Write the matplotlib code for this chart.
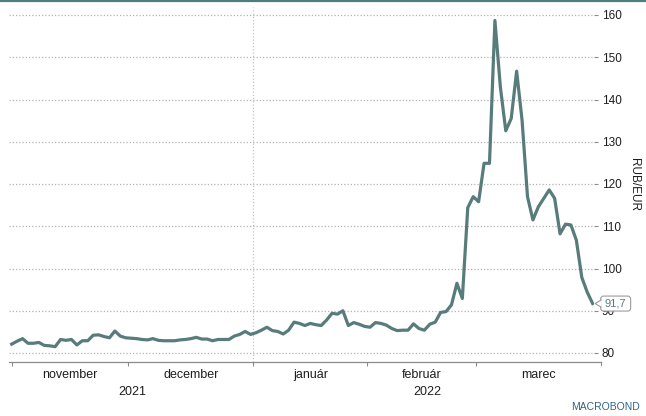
import matplotlib
matplotlib.use("Agg")
import matplotlib.pyplot as plt
import matplotlib.transforms as mtransforms
from matplotlib.patches import FancyBboxPatch, Polygon
from matplotlib.lines import Line2D
import numpy as np
import pandas as pd

plt.rcParams['font.family'] = ['Liberation Sans', 'DejaVu Sans']

# Daily (business-day) RUB/EUR exchange rate, starting 1 Nov 2021
start_date = "2021-11-01"
end_of_range = "2022-03-31"
rub_eur = [
    # November
    82.1, 82.8, 83.4, 82.3, 82.3, 82.5, 81.8, 81.7, 81.5, 83.2, 83.0,
    83.2, 81.9, 82.9, 82.9, 84.2, 84.3, 83.9, 83.6, 85.2, 84.0, 83.6,
    # December
    83.5, 83.4, 83.2, 83.1, 83.4, 83.0, 82.9, 82.9, 82.9, 83.1, 83.2,
    83.4, 83.7, 83.3, 83.3, 82.9, 83.2, 83.2, 83.2, 84.0, 84.4, 85.1, 84.4,
    # January
    84.8, 85.4, 86.1, 85.3, 85.1, 84.5, 85.4, 87.3, 87.0, 86.5, 87.0,
    86.7, 86.5, 87.8, 89.4, 89.2, 90.0, 86.5, 87.2, 86.8, 86.3,
    # February
    86.1, 87.2, 87.0, 86.6, 85.8, 85.3, 85.4, 85.4, 86.9, 85.8, 85.4,
    86.8, 87.3, 89.6, 89.8, 91.4, 96.5, 92.9, 114.4, 117.0,
    # March
    115.8, 124.9, 124.9, 158.7, 143.0, 132.6, 135.5, 146.7, 135.1, 117.0,
    111.5, 114.6, 116.6, 118.6, 116.6, 108.2, 110.5, 110.3, 106.7, 97.9,
    94.4, 91.7,
]
month_names = ["november", "december", "január", "február", "marec"]
year_labels = ["2021", "2022"]
last_value_label = "91,7"
y_ticks = [80, 90, 100, 110, 120, 130, 140, 150, 160]
unit_label = "RUB/EUR"

line_color = "#587c7b"
grid_color = "#b3b3b3"
text_color = "#1e1e1e"

dates = pd.bdate_range(start_date, periods=len(rub_eur))
x = np.arange(len(rub_eur))

# month boundaries on the business-day index
month_first = [i for i in range(1, len(dates)) if dates[i].month != dates[i - 1].month]
n_total = len(pd.bdate_range(start_date, end_of_range))
bounds = [0] + [i - 0.5 for i in month_first] + [n_total - 0.5]
year_split = month_first[1] - 0.5  # 1 January

W, H = 646, 416
fig = plt.figure(figsize=(W / 100, H / 100), dpi=100)
ax_l, ax_r, ax_t, ax_b = 9, 594, 7, 362
ax = fig.add_axes([ax_l / W, 1 - ax_b / H, (ax_r - ax_l) / W, (ax_b - ax_t) / H])

ax.set_xlim(-0.5, 107.25)
px_per_unit = 353 - 15
ax.set_ylim(80 - (ax_b - 353) / (px_per_unit / 80), 160 + (15 - ax_t) / (px_per_unit / 80))

# dotted horizontal grid and the year divider
for v in y_ticks:
    ax.axhline(v, color=grid_color, lw=0.9, ls=(0, (1, 1.6)), zorder=1)
ax.axvline(year_split, color="#c4c4c4", lw=0.9, ls=(0, (1, 1.6)), zorder=1)

ax.plot(x, rub_eur, color=line_color, lw=2.3, solid_joinstyle="round", zorder=3)

# spines
for s in ["top", "left", "right"]:
    ax.spines[s].set_visible(False)
ax.spines["bottom"].set_color("#8c8c8c")
ax.spines["bottom"].set_linewidth(0.9)
ax.spines["bottom"].set_bounds(-0.5, bounds[-1])

# y axis on the right
ax.yaxis.tick_right()
ax.set_yticks(y_ticks)
ax.set_yticklabels([str(v) for v in y_ticks])
ax.tick_params(axis="y", length=3, width=0.8, color="#8c8c8c", pad=2.5,
               labelsize=8.5, labelcolor=text_color)

# x ticks at month boundaries (the last one lies past the plot area)
ax.set_xticks(bounds[:-1])
ax.set_xticklabels([])
ax.tick_params(axis="x", length=3, width=0.8, color="#8c8c8c")
xtrans = mtransforms.blended_transform_factory(ax.transData, ax.transAxes)
ax.add_line(Line2D([bounds[-1], bounds[-1]], [0, -3 / (ax_b - ax_t)], transform=xtrans,
                   color="#8c8c8c", lw=0.8, clip_on=False))

# month and year labels
for name, a, b in zip(month_names, bounds[:-1], bounds[1:]):
    ax.text((a + b) / 2, -13 / (ax_b - ax_t), name, transform=xtrans,
            ha="center", va="center", fontsize=9, color=text_color)
ax.text((bounds[0] + year_split) / 2, -30 / (ax_b - ax_t), year_labels[0],
        transform=xtrans, ha="center", va="center", fontsize=9, color=text_color)
ax.text((year_split + bounds[-1]) / 2, -30 / (ax_b - ax_t), year_labels[1],
        transform=xtrans, ha="center", va="center", fontsize=9, color=text_color)

# callout for the last value
anchor = mtransforms.ScaledTranslation(x[-1], rub_eur[-1], ax.transData)
trans = fig.dpi_scale_trans + anchor
d = fig.dpi
box = FancyBboxPatch((8 / d, -7.5 / d), 30 / d, 15 / d,
                     boxstyle=f"round,pad=0,rounding_size={3 / d}",
                     transform=trans, fc="white", ec="#9c9c9c", lw=0.8,
                     clip_on=False, zorder=5)
ax.add_patch(box)
ax.add_patch(Polygon([(2.5 / d, 0), (8.6 / d, 3.5 / d), (8.6 / d, -3.5 / d)],
                     closed=True, transform=trans, fc="white", ec="none",
                     clip_on=False, zorder=6))
ax.add_line(Line2D([8.4 / d, 2.5 / d, 8.4 / d], [3.5 / d, 0, -3.5 / d],
                   transform=trans, color="#9c9c9c", lw=0.8, clip_on=False, zorder=7))
ax.text(23 / d, 0, last_value_label, transform=trans, ha="center", va="center",
        fontsize=8, color=line_color, zorder=8, clip_on=False)

# unit label, frame line and logo
fig.text(634 / W, 1 - 185 / H, unit_label, rotation=270, ha="center", va="center",
         fontsize=8.5, color=text_color)
fig.add_artist(Line2D([0, 1], [1 - 0.8 / H, 1 - 0.8 / H], transform=fig.transFigure,
                      color="#4f7c7c", lw=1.6))
fig.text(640 / W, 1 - 407 / H, "MACROBOND", ha="right", va="center",
         fontsize=7.5, color="#2f6688")

fig.savefig("out.png", dpi=100)
